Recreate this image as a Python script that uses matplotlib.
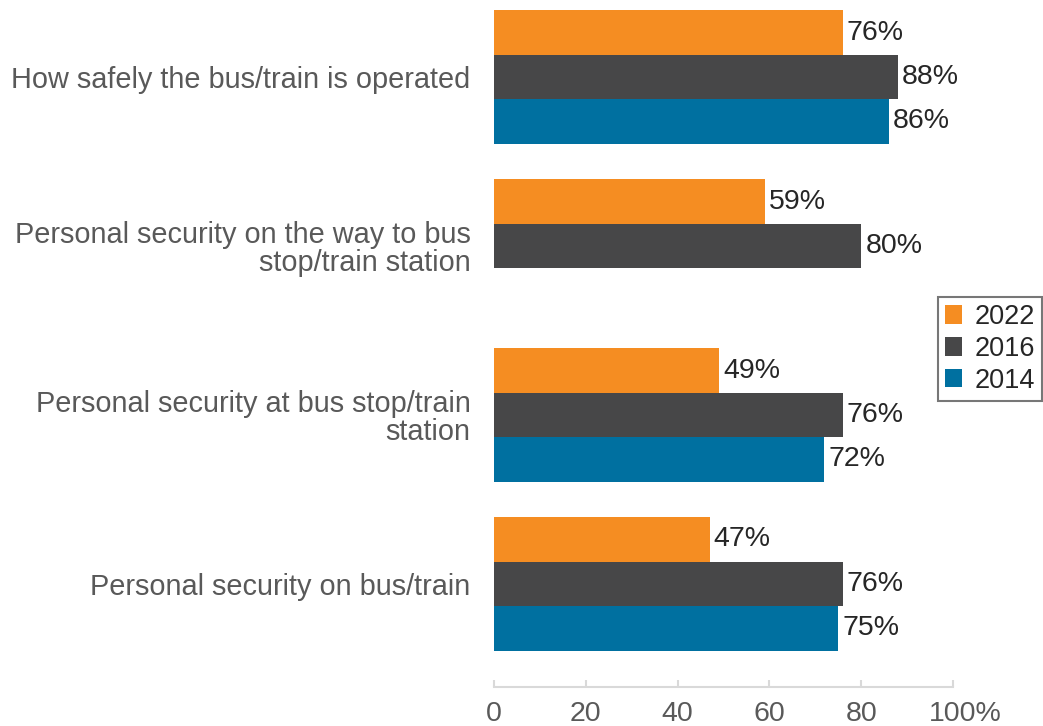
import matplotlib.pyplot as plt
import matplotlib.transforms as mtransforms
import numpy as np

plt.rcParams['font.family'] = ['Liberation Sans', 'DejaVu Sans']

# data
categories = ['How safely the bus/train is operated',
              'Personal security on the way to bus\nstop/train station',
              'Personal security at bus stop/train\nstation',
              'Personal security on bus/train']
years = ['2022', '2016', '2014']
vals_2022 = [76, 59, 49, 47]
vals_2016 = [88, 80, 76, 76]
vals_2014 = [86, np.nan, 72, 75]
colors = ['#F58D22', '#474748', '#0070A0']
xticks = [0, 20, 40, 60, 80, 100]

fs = 20.5

fig = plt.figure(figsize=(10.43, 7.26), dpi=100)
ax = fig.add_axes([494 / 1043, 1 - 687 / 726, (953 - 494) / 1043, 687 / 726])

pos = np.arange(len(categories))
h = 0.263
for i, (vals, c, yr) in enumerate(zip([vals_2022, vals_2016, vals_2014], colors, years)):
    y = pos + (i - 1) * h
    v = np.array(vals, dtype=float)
    ax.barh(y, v, height=h, color=c, label=yr)
    for yy, vv in zip(y, v):
        if np.isnan(vv):
            continue
        ax.text(vv + 0.9, yy, f'{vv:.0f}%', va='center', ha='left',
                fontsize=fs, color='#262626')

ax.set_ylim(3.61, -0.456)
ax.set_xlim(0, 100)
ax.set_yticks(pos)
ax.set_yticklabels(categories, fontsize=20.8, color='#595959', linespacing=1.0)
ax.tick_params(axis='y', length=0, pad=17)

ax.set_xticks(xticks)
ax.set_xticklabels([str(t) for t in xticks[:-1]] + ['100%'], fontsize=fs, color='#595959')
ax.tick_params(axis='x', direction='in', length=5, color='#d9d9d9', width=1.5, pad=10)
lab = ax.get_xticklabels()[-1]
lab.set_transform(lab.get_transform() + mtransforms.ScaledTranslation(0.12, 0, fig.dpi_scale_trans))

for s in ['top', 'right', 'left']:
    ax.spines[s].set_visible(False)
ax.spines['bottom'].set_color('#d9d9d9')
ax.spines['bottom'].set_linewidth(1.5)

leg = ax.legend(loc='center left', bbox_to_anchor=(938 / 1043, 1 - 349 / 726),
                bbox_transform=fig.transFigure, fontsize=19.5, frameon=True,
                fancybox=False, handlelength=0.65, handleheight=0.65,
                handletextpad=0.45, labelspacing=0.22, borderpad=0.25,
                borderaxespad=0)
leg.get_frame().set_edgecolor('#555555')
leg.get_frame().set_linewidth(1.5)
for t in leg.get_texts():
    t.set_color('#262626')

fig.savefig('out.png', dpi=100)
